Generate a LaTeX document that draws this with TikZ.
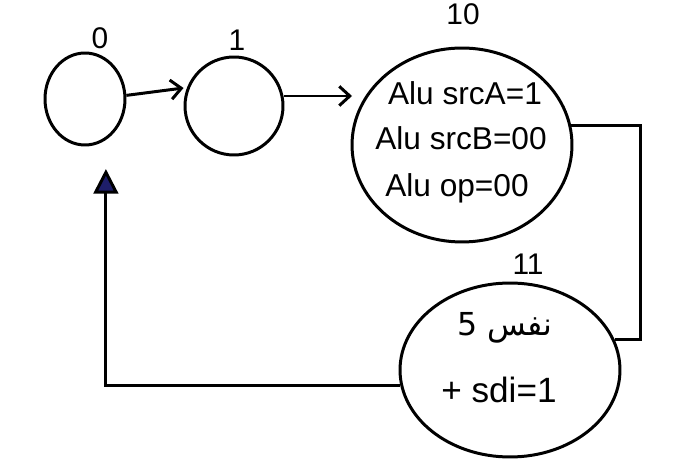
\documentclass[tikz,border=0pt]{standalone}
\usepackage{fontspec}
\setmainfont{Liberation Sans}
\newfontfamily\arabicfont[Script=Arabic]{DejaVu Sans}
\TeXXeTstate=1
\usetikzlibrary{shapes.geometric,arrows.meta}
\definecolor{inknavy}{HTML}{1E1E6A}
\tikzset{
  state/.style={ellipse, draw, line width=1.7pt, inner sep=0pt},
  statenum/.style={font=\fontsize{17}{19}\selectfont},
  ctrl/.style={font=\fontsize{18}{20}\selectfont},
  wire/.style={line width=1.7pt},
  flow/.style={wire, -{Straight Barb[length=6pt,width=11pt,line width=1.7pt]}},
  back/.style={wire, -{Triangle[length=14pt,width=14pt,fill=inknavy]}, shorten >=0.58cm}
}
\begin{document}
\begin{tikzpicture}[x=0.02cm,y=-0.02cm]
  \useasboundingbox (0,0) rectangle (699,472);

  % states
  \node[state, minimum width=1.6cm, minimum height=1.84cm] (n0) at (85,99) {};
  \node[state, minimum width=1.96cm, minimum height=1.96cm] (n1) at (234,106) {};
  \node[state, minimum width=4.4cm, minimum height=3.88cm] (n10) at (462,145) {};
  \node[state, minimum width=4.4cm, minimum height=3.48cm] (n11) at (510,370) {};

  % state numbers
  \node[statenum] (l0) at (100,38) {0};
  \node[statenum] (l1) at (237,40) {1};
  \node[statenum] (l10) at (463,14) {10};
  \node[statenum] (l11) at (528,264) {11};

  % control signals of state 10
  \node[ctrl] (s1) at (465,93) {Alu srcA=1};
  \node[ctrl] (s2) at (461,138) {Alu srcB=00};
  \node[ctrl] (s3) at (457,188) {Alu op=00};

  % control signals of state 11
  \node[ctrl] (s4) at (505,328) {\arabicfont\beginR نفس 5\endR};
  \node[ctrl, font=\fontsize{20}{22}\selectfont] (s5) at (499,390) {+ sdi=1};

  % transitions
  \draw[flow] (n0.5) -- (n1.west |- 0,88);
  \coordinate (a1) at (352,96);
  \draw[flow] (n1.east |- a1) -- (a1);
  \coordinate (rt) at (640,230);
  \draw[wire] (n10.10) -| (rt) |- (n11.16);
  \draw[back] (n11.188) -| (n0.-63);
\end{tikzpicture}
\end{document}
